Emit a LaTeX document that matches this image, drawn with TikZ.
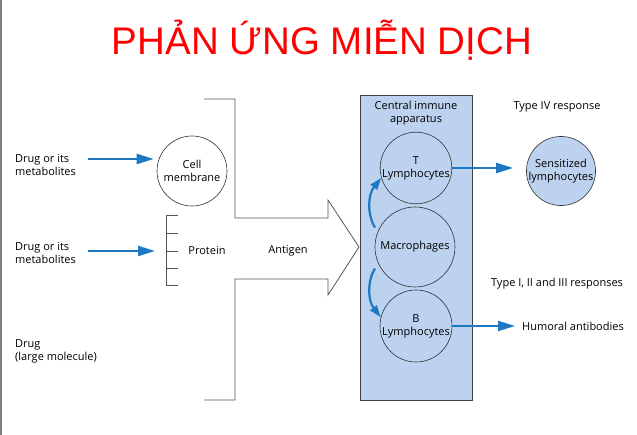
\documentclass[tikz,border=0pt]{standalone}
\usepackage{fontspec}
\setmainfont{Open Sans}
\newfontfamily\titlefont{Liberation Sans}
\usetikzlibrary{positioning, arrows.meta}

\definecolor{flowblue}{HTML}{1E78C2}
\definecolor{boxblue}{HTML}{BCD2EE}
\definecolor{linegray}{HTML}{555555}

\tikzset{
  flow/.style={flowblue, line width=2.2pt, -{Triangle[length=17pt,width=10pt]}},
  bendflow/.style={flowblue, line width=2.2pt, -{Triangle[length=12pt,width=8pt]}},
  cell/.style={circle, draw=black!80, line width=0.6pt, inner sep=0pt, align=center,
    font=\fontsize{11}{13}\selectfont},
  lbl/.style={font=\fontsize{11}{13}\selectfont, align=left, inner sep=0pt}
}

\begin{document}
\begin{tikzpicture}[x=1pt, y=-1pt]
  \useasboundingbox (0,0) rectangle (637,435);
  \fill[white] (0,0) rectangle (637,435);
  \draw[gray, line width=1.2pt] (1,0) -- (1,435);

  %title
  \node[anchor=base, text=red, font=\titlefont\fontsize{38.5}{42}\selectfont, inner sep=0pt]
    (title) at (322,55) {PHẢN ỨNG MIỄN DỊCH};

  %drugs
  \node[lbl, anchor=west] (drugA) at (15,165) {Drug or its\\metabolites};
  \node[lbl, anchor=west] (drugB) at (15,253) {Drug or its\\metabolites};
  \node[lbl, anchor=west] (drugC) at (15,351) {Drug\\(large molecule)};

  %carriers
  \node[cell, minimum size=70pt] (cellmem) at (192,171) {Cell\\membrane};
  \coordinate (comb) at (166,251);
  \draw[linegray, line width=0.7pt] (178,215) -| (166,285) -- (178,285);
  \foreach \y in {233,251,268}
    \draw[linegray, line width=0.7pt] (166,\y) -- (178,\y);
  \node[lbl] (protein) at (207,251) {Protein};

  \draw[flow] ([xshift=12pt,yshift=6pt]drugA.east) -- ([xshift=-3pt,yshift=12pt]cellmem.west);
  \draw[flow] ([xshift=12pt]drugB.east |- comb) -- ([xshift=-11pt]comb);

  % antigen arrow
  \draw[linegray, line width=0.8pt] (204,99) -| (235,218) -- (328,218) -- (328,200)
    -- (359,247) -- (328,295) -- (328,279) -- (235,279) |- (204,400);
  \node[lbl] (antigen) at (288,251) {Antigen};

  % central immune apparatus
  \node[draw=black!75, fill=boxblue, line width=0.7pt, minimum width=112pt,
    minimum height=305pt, inner sep=0pt] (immune) at (416,247.5) {};
  \node[lbl, align=center, below=6pt of immune.north] (apparatus) {Central immune\\apparatus};
  \node[cell, minimum size=70pt] (tlym) at (416,168) {T\\Lymphocytes};
  \node[cell, minimum size=80pt] (macro) at (415,247) {Macrophages};
  \node[cell, minimum size=72pt] (blym) at (416,326) {B\\Lymphocytes};

  \draw[bendflow, shorten <=5pt] (macro.158) to[bend left=35] (tlym.196);
  \draw[bendflow, shorten <=6pt] (macro.204) to[bend right=35] (blym.166);

  % responses
  \node[cell, fill=boxblue, minimum size=66pt] (sens) at (561,171) {Sensitized\\lymphocytes};
  \node[lbl] (typefour) at (557,107) {Type IV response};
  \node[lbl] (typeothers) at (557,284) {Type I, II and III responses};
  \node[lbl, anchor=west] (humoral) at (522,326) {Humoral antibodies};

  \draw[flow, shorten >=13pt] (tlym.east) -- (sens.west |- tlym.east);
  \draw[flow, shorten >=7pt] (blym.east) -- (humoral.west |- blym.east);
\end{tikzpicture}
\end{document}
